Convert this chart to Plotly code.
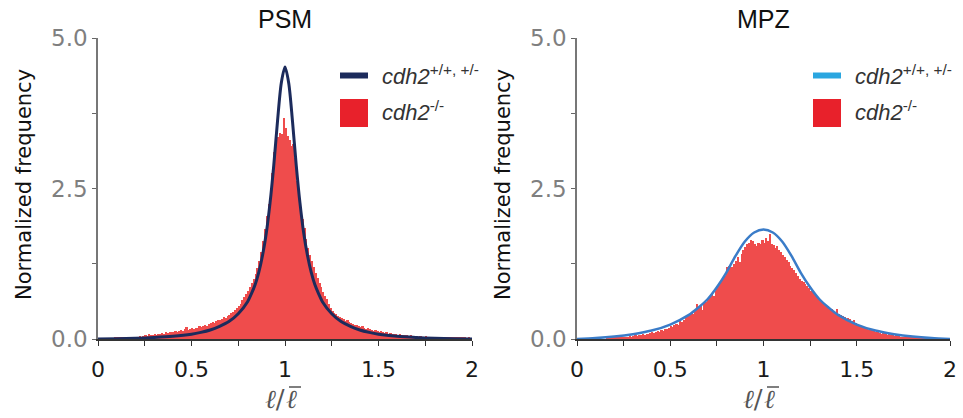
import numpy as np
import plotly.graph_objects as go

# ---------------- data ----------------
bin_start = 0.0
bin_width = 0.01

psm_hist = [
    0, 0, 0, 0, 0, 0, 0, 0, 0.01, 0.02,
    0.02, 0.03, 0.02, 0.03, 0.03, 0.02, 0.03, 0.04, 0.03, 0.04,
    0.04, 0.03, 0.05, 0.04, 0.05, 0.06, 0.05, 0.08, 0.06, 0.07,
    0.08, 0.07, 0.09, 0.08, 0.10, 0.09, 0.11, 0.10, 0.12, 0.11,
    0.12, 0.13, 0.12, 0.14, 0.15, 0.13, 0.16, 0.20, 0.15, 0.17,
    0.18, 0.17, 0.19, 0.18, 0.21, 0.20, 0.22, 0.24, 0.22, 0.25,
    0.26, 0.28, 0.27, 0.30, 0.32, 0.31, 0.34, 0.36, 0.35, 0.38,
    0.40, 0.43, 0.45, 0.48, 0.52, 0.55, 0.58, 0.64, 0.70, 0.74,
    0.80, 0.86, 0.93, 1.00, 1.08, 1.18, 1.30, 1.45, 1.62, 1.82,
    2.05, 2.25, 2.45, 2.75, 3.10, 3.30, 3.35, 3.42, 3.40, 3.67,
    3.50, 3.38, 3.30, 3.20, 3.24, 3.00, 2.62, 2.40, 2.20, 2.00,
    1.85, 1.66, 1.52, 1.40, 1.30, 1.20, 1.10, 1.02, 0.93, 0.86,
    0.78, 0.72, 0.66, 0.58, 0.52, 0.47, 0.44, 0.41, 0.38, 0.37,
    0.35, 0.33, 0.30, 0.31, 0.28, 0.27, 0.25, 0.24, 0.23, 0.21,
    0.20, 0.21, 0.18, 0.17, 0.18, 0.16, 0.15, 0.14, 0.15, 0.13,
    0.12, 0.13, 0.11, 0.10, 0.11, 0.09, 0.10, 0.08, 0.09, 0.08,
    0.07, 0.08, 0.07, 0.06, 0.07, 0.06, 0.05, 0.06, 0.05, 0.05,
    0.05, 0.04, 0.05, 0.04, 0.04, 0.05, 0.04, 0.03, 0.04, 0.04,
    0.03, 0.04, 0.03, 0.03, 0.04, 0.03, 0.02, 0.03, 0.03, 0.02,
    0.03, 0.02, 0.02, 0.03, 0.02, 0.02, 0.02, 0.01, 0.02, 0.01,
]

mpz_hist = [
    0, 0, 0, 0, 0, 0, 0, 0, 0, 0,
    0, 0, 0, 0, 0, 0, 0.01, 0.01, 0.01, 0.02,
    0.02, 0.02, 0.03, 0.02, 0.03, 0.04, 0.03, 0.04, 0.05, 0.04,
    0.05, 0.06, 0.05, 0.07, 0.06, 0.08, 0.07, 0.09, 0.08, 0.10,
    0.11, 0.10, 0.12, 0.13, 0.12, 0.15, 0.14, 0.17, 0.16, 0.19,
    0.21, 0.20, 0.23, 0.25, 0.24, 0.33, 0.28, 0.31, 0.36, 0.38,
    0.40, 0.43, 0.41, 0.46, 0.58, 0.52, 0.55, 0.48, 0.60, 0.62,
    0.66, 0.70, 0.74, 0.72, 0.80, 0.86, 0.90, 0.95, 1.00, 1.05,
    1.20, 1.21, 1.20, 1.19, 1.25, 1.30, 1.37, 1.28, 1.42, 1.48,
    1.53, 1.57, 1.60, 1.64, 1.62, 1.58, 1.55, 1.60, 1.57, 1.65,
    1.60, 1.67, 1.63, 1.75, 1.58, 1.56, 1.52, 1.55, 1.48, 1.45,
    1.40, 1.36, 1.32, 1.28, 1.22, 1.18, 1.14, 1.10, 1.04, 1.00,
    0.97, 0.94, 0.92, 0.88, 0.84, 0.80, 0.78, 0.74, 0.70, 0.66,
    0.64, 0.61, 0.58, 0.56, 0.54, 0.52, 0.50, 0.47, 0.45, 0.50,
    0.42, 0.40, 0.38, 0.36, 0.34, 0.35, 0.33, 0.30, 0.32, 0.27,
    0.24, 0.22, 0.20, 0.21, 0.18, 0.17, 0.15, 0.16, 0.14, 0.13,
    0.12, 0.11, 0.10, 0.09, 0.10, 0.08, 0.07, 0.08, 0.06, 0.06,
    0.05, 0.06, 0.05, 0.04, 0.04, 0.03, 0.04, 0.03, 0.03, 0.02,
    0.02, 0.02, 0.02, 0.01, 0.02, 0.01, 0.01, 0.01, 0.01, 0.01,
    0.01, 0.01, 0, 0.01, 0, 0, 0, 0, 0, 0,
]

psm_curve_x = [0.0, 0.1, 0.2, 0.3, 0.4, 0.5, 0.55, 0.6, 0.65, 0.7, 0.75, 0.8,
               0.82, 0.84, 0.86, 0.88, 0.9, 0.92, 0.94, 0.96, 0.98, 1.0,
               1.02, 1.04, 1.06, 1.08, 1.1, 1.12, 1.14, 1.16, 1.18, 1.2,
               1.25, 1.3, 1.35, 1.4, 1.45, 1.5, 1.6, 1.7, 1.8, 1.9, 2.0]
psm_curve_y = [0.0, 0.005, 0.012, 0.025, 0.045, 0.08, 0.11, 0.15, 0.21, 0.29, 0.42, 0.62,
               0.75, 0.90, 1.11, 1.39, 1.76, 2.26, 2.89, 3.62, 4.25, 4.52,
               4.25, 3.62, 2.89, 2.26, 1.76, 1.39, 1.11, 0.90, 0.75, 0.62,
               0.42, 0.29, 0.21, 0.15, 0.11, 0.08, 0.045, 0.025, 0.012, 0.005, 0.0]

mpz_curve_x = [0.0, 0.1, 0.2, 0.3, 0.4, 0.5, 0.6, 0.65, 0.7, 0.75, 0.8, 0.85, 0.9, 0.95, 1.0,
               1.05, 1.1, 1.15, 1.2, 1.25, 1.3, 1.35, 1.4, 1.5, 1.6, 1.7, 1.8, 1.9, 2.0]
mpz_curve_y = [0.0, 0.015, 0.04, 0.08, 0.14, 0.24, 0.40, 0.52, 0.66, 0.86, 1.10, 1.38, 1.62, 1.77, 1.82,
               1.77, 1.62, 1.38, 1.10, 0.86, 0.66, 0.52, 0.40, 0.24, 0.14, 0.08, 0.04, 0.015, 0.0]

panel_titles = ["PSM", "MPZ"]
legend_wt = "<i>cdh2</i><sup>+/+, +/-</sup>"
legend_ko = "<i>cdh2</i><sup>-/-</sup>"
y_title = "Normalized frequency"
x_tickvals = [0, 0.5, 1, 1.5, 2]
x_ticktext = ["0", "0.5", "1", "1.5", "2"]
x_minor_ticks = [0.25, 0.75, 1.25, 1.75]
y_tickvals = [0, 2.5, 5]
y_ticktext = ["0.0", "2.5", "5.0"]
y_minor_ticks = [1.25, 3.75]

# ---------------- figure ----------------
W, H = 963, 418
bin_centers = bin_start + bin_width * (np.arange(len(psm_hist)) + 0.5)

BAR_COLOR = "#EF4C4C"
PATCH_COLOR = "#E8212B"
PSM_LINE = "#1C2B5C"
MPZ_LINE = "#3A7CC8"
MPZ_KEY = "#2AA6E0"

fig = go.Figure()
fig.add_trace(go.Bar(x=bin_centers, y=psm_hist, width=bin_width, marker=dict(color=BAR_COLOR, line=dict(width=0)),
                     xaxis="x", yaxis="y", showlegend=False))
fig.add_trace(go.Scatter(x=psm_curve_x, y=psm_curve_y, mode="lines", line=dict(color=PSM_LINE, width=3, shape="spline", smoothing=0.8),
                         xaxis="x", yaxis="y", showlegend=False))
fig.add_trace(go.Bar(x=bin_centers, y=mpz_hist, width=bin_width, marker=dict(color=BAR_COLOR, line=dict(width=0)),
                     xaxis="x2", yaxis="y2", showlegend=False))
fig.add_trace(go.Scatter(x=mpz_curve_x, y=mpz_curve_y, mode="lines", line=dict(color=MPZ_LINE, width=2.5, shape="spline", smoothing=0.8),
                         xaxis="x2", yaxis="y2", showlegend=False))

def px(x):
    return x / W

def py(y):
    return 1 - y / H

dom_y = [py(339), py(38)]
dom_x1 = [px(98), px(472)]
dom_x2 = [px(577), px(950)]

tickfont_x = dict(family="DejaVu Sans", size=22, color="#1a1a1a")
tickfont_y = dict(family="DejaVu Sans", size=23, color="#7f7f7f")

def xaxis_cfg(dom, anchor):
    return dict(domain=dom, anchor=anchor, range=[0, 2], tickmode="array", tickvals=x_tickvals, ticktext=x_ticktext,
                ticks="outside", ticklen=5, tickwidth=1.2, tickcolor="#333", showline=True, linecolor="#333", linewidth=1.5,
                minor=dict(tickmode="array", tickvals=x_minor_ticks, ticks="outside", ticklen=5, tickwidth=1.2,
                           tickcolor="#333", showgrid=False),
                showgrid=False, zeroline=False, tickfont=tickfont_x, ticklabelstandoff=5, automargin=False, fixedrange=True)

def yaxis_cfg(anchor):
    return dict(domain=dom_y, anchor=anchor, range=[0, 5], tickmode="array", tickvals=y_tickvals, ticktext=y_ticktext,
                ticks="outside", ticklen=4, tickwidth=1.2, tickcolor="#666", showline=True, linecolor="#777", linewidth=1.5,
                minor=dict(tickmode="array", tickvals=y_minor_ticks, ticks="outside", ticklen=4, tickwidth=1.2,
                           tickcolor="#666", showgrid=False),
                showgrid=False, zeroline=False, tickfont=tickfont_y, ticklabelstandoff=0, automargin=False, fixedrange=True)

fig.update_layout(
    width=W, height=H, margin=dict(l=0, r=0, t=0, b=0, pad=0),
    paper_bgcolor="white", plot_bgcolor="white", bargap=0,
    xaxis=xaxis_cfg(dom_x1, "y"), yaxis=yaxis_cfg("x"),
    xaxis2=xaxis_cfg(dom_x2, "y2"), yaxis2=yaxis_cfg("x2"),
    showlegend=False,
)

annotations = []
shapes = []
for i, (title, cx, lx, key_col) in enumerate([(panel_titles[0], 285, 340, PSM_LINE), (panel_titles[1], 763, 813, MPZ_KEY)]):
    annotations.append(dict(text=title, x=px(cx), y=py(19), xref="paper", yref="paper", showarrow=False,
                            xanchor="center", yanchor="middle", font=dict(family="Liberation Sans", size=25, color="#111")))
    y_title_x = 24 if i == 0 else 503
    annotations.append(dict(text=y_title, x=px(y_title_x), y=py(185), xref="paper", yref="paper", showarrow=False,
                            textangle=-90, xanchor="center", yanchor="middle", font=dict(family="DejaVu Sans", size=21, color="#111")))
    # x-axis title: l / l-bar
    annotations.append(dict(text="<i>ℓ</i>/", x=px(cx + 2), y=py(399), xref="paper", yref="paper", showarrow=False,
                            xanchor="right", yanchor="middle", font=dict(family="DejaVu Serif", size=26, color="#555")))
    annotations.append(dict(text="<i>ℓ</i>", x=px(cx - 1), y=py(399), xref="paper", yref="paper", showarrow=False,
                            xanchor="left", yanchor="middle", font=dict(family="DejaVu Serif", size=26, color="#555")))
    shapes.append(dict(type="line", xref="paper", yref="paper", x0=px(cx + 4), x1=px(cx + 16), y0=py(387), y1=py(387),
                       line=dict(color="#555", width=1.5)))
    # legend keys
    shapes.append(dict(type="rect", xref="paper", yref="paper", x0=px(lx), x1=px(lx + 28), y0=py(78.5), y1=py(72.5),
                       fillcolor=key_col, line=dict(width=0)))
    shapes.append(dict(type="rect", xref="paper", yref="paper", x0=px(lx), x1=px(lx + 28), y0=py(127), y1=py(99),
                       fillcolor=PATCH_COLOR, line=dict(width=0)))
    annotations.append(dict(text=legend_wt, x=px(lx + 40), y=py(75), xref="paper", yref="paper", showarrow=False,
                            xanchor="left", yanchor="middle", font=dict(family="Liberation Sans", size=22, color="#333")))
    annotations.append(dict(text=legend_ko, x=px(lx + 40), y=py(111), xref="paper", yref="paper", showarrow=False,
                            xanchor="left", yanchor="middle", font=dict(family="Liberation Sans", size=22, color="#333")))

fig.update_layout(annotations=annotations, shapes=shapes)
fig.write_html("out.html", config={"displayModeBar": False},
               post_script="document.body.style.margin='0px';document.body.style.overflow='hidden';")
